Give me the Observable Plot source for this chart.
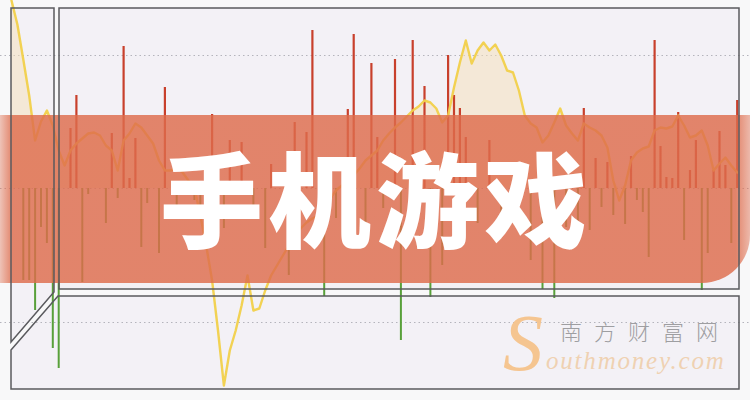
<!DOCTYPE html>
<html><head><meta charset="utf-8">
<script src="https://cdn.jsdelivr.net/npm/d3@7"></script>
<script src="https://cdn.jsdelivr.net/npm/@observablehq/plot@0.6"></script>
<style>
html,body{margin:0;padding:0;background:#f8f8f9;}
#wrap{position:relative;width:750px;height:400px;overflow:hidden;}
#wrap > *{position:absolute;}
#banner{left:0;top:115px;width:750px;height:168px;border-bottom-right-radius:48px;
 background:linear-gradient(to right, rgba(222,108,76,.38) 0px, rgba(222,108,76,.82) 12px, rgba(222,108,76,.82) 736px, rgba(222,108,76,.45) 750px);}
#title{left:0;top:141px;width:752px;text-align:center;font:900 103px/110px "Noto Sans CJK SC",sans-serif;letter-spacing:5px;color:#fff;white-space:nowrap;}
#wm1{left:560px;top:314px;font:300 22px "Noto Sans CJK SC",sans-serif;line-height:normal;color:#9e9ea1;letter-spacing:12px;white-space:nowrap;}
#wmS{left:503px;top:303px;font:italic 80px/80px "Liberation Serif",serif;color:#f5c590;}
#wm2{left:546px;top:347px;font:italic 25px "Liberation Serif",serif;line-height:normal;color:#efd1b2;letter-spacing:1.8px;white-space:nowrap;}
</style></head>
<body>
<div id="wrap">
  <svg id="bg" width="750" height="400" style="left:0;top:0">
    <path d="M11,8 H54 V292 L11,342 Z" fill="#f3f1f6"/>
    <rect x="59" y="8" width="680" height="281" fill="#f3f1f6"/>
    <path d="M11,350 L58,296 H739 V389 H11 Z" fill="#f3f1f6"/>
  </svg>
  <div id="chart" style="left:0;top:0"></div>
  <div id="banner"></div>
  <svg id="frames" width="750" height="400" style="left:0;top:0">
    <g fill="none" stroke="#5a5a5e" stroke-width="1.5">
      <path d="M11,8 H54 V292 L11,342 Z"/>
      <rect x="59" y="8" width="680" height="281"/>
      <path d="M11,350 L58,296 H739 V389 H11 Z"/>
    </g>
  </svg>
  <div id="title">手机游戏</div>
  <div id="wmS">S</div>
  <div id="wm1">南方财富网</div>
  <div id="wm2">outhmoney.com</div>
</div>
<script>
// slot indices of the price series (one per trading period)
const slots = d3.range(-10, 114);
// price line (relative to volume baseline)
const price = [188,164,129,93,48,67,78,63,38,23,
  38,45,50,55,56,53,43,38,18,48,
  55,65,61,53,45,28,18,18,21,16,
  8,1,-27,-57,-92,-142,-197,-162,-142,-117,
  -87,-122,-120,-102,-87,-77,-67,-57,-47,-40,
  -34,-30,-27,-17,-10,-2,3,8,13,20,
  28,33,38,48,55,61,66,72,78,82,
  88,86,80,66,73,101,126,148,125,138,
  146,138,144,133,118,116,98,73,65,61,
  46,53,66,80,63,55,48,65,61,58,
  53,41,8,-12,3,28,36,40,42,58,
  61,60,62,73,63,51,53,58,43,18,
  25,31,23,16];
// rising volume bars
const upSlot = [0,1,7,9,10,11,16,24,27,29,34,38,40,41,47,48,51,52,55,58,60,64,65,66,67,71,87,89,91,95,99,100,101,102,103,105,106,109,110,111,113];
const upVal  = [60,93,55,142,10,50,101,74,48,46,24,66,56,158,79,154,125,51,129,148,102,133,93,80,51,48,80,30,26,32,148,42,11,10,76,18,48,18,57,23,88];
// falling volume bars
const downSlot = [-8,-7,-6,-5,-4,-3,-2,2,3,6,8,12,13,15,18,21,22,26,31,33,37,43,45,50,53,56,61,63,69,73,75,78,80,82,84,86,88,90,92,94,96,97,98,104,107,108,112];
const downVal  = [-92,-92,-122,-39,-55,-160,-180,-94,-6,-35,-10,-59,-15,-65,-30,-12,-20,-40,-25,-60,-87,-108,-30,-45,-20,-152,-109,-77,-35,-50,-28,-72,-101,-110,-39,-39,-42,-19,-27,-36,-12,-24,-69,-52,-102,-65,-55];
// dotted reference levels
const gridLevels = [133, 0, -134];

const priceRows = slots.map((s, k) => ({slot: s, price: price[k]}));
const upRows = upSlot.map((s, k) => ({slot: s, v: upVal[k]}));
const downRows = downSlot.map((s, k) => ({slot: s, v: downVal[k]}));

const chart = Plot.plot({
  width: 750, height: 400,
  marginTop: 0, marginRight: 0, marginBottom: 0, marginLeft: 0,
  style: {background: "transparent", overflow: "hidden"},
  x: {domain: [-10, 113], range: [11, 736.7], axis: null},
  y: {domain: [-212, 188], range: [400, 0], axis: null},
  marks: [
    Plot.ruleY(gridLevels, {stroke: "#b4b4bc", strokeDasharray: "1.5,3", strokeWidth: 1}),
    Plot.areaY(priceRows, {x: "slot", y1: 0, y2: d => Math.max(0, d.price), fill: "#f6dfb8", fillOpacity: 0.5}),
    Plot.ruleX(downRows, {x: "slot", y1: 0, y2: "v", stroke: "#58a03a", strokeWidth: 2}),
    Plot.ruleX(upRows, {x: "slot", y1: 0, y2: "v", stroke: "#c8402c", strokeWidth: 2.2}),
    Plot.line(priceRows, {x: "slot", y: "price", stroke: "#f1d04a", strokeWidth: 2.4, strokeOpacity: 0.95})
  ]
});
document.getElementById("chart").appendChild(chart);
</script>
</body></html>
